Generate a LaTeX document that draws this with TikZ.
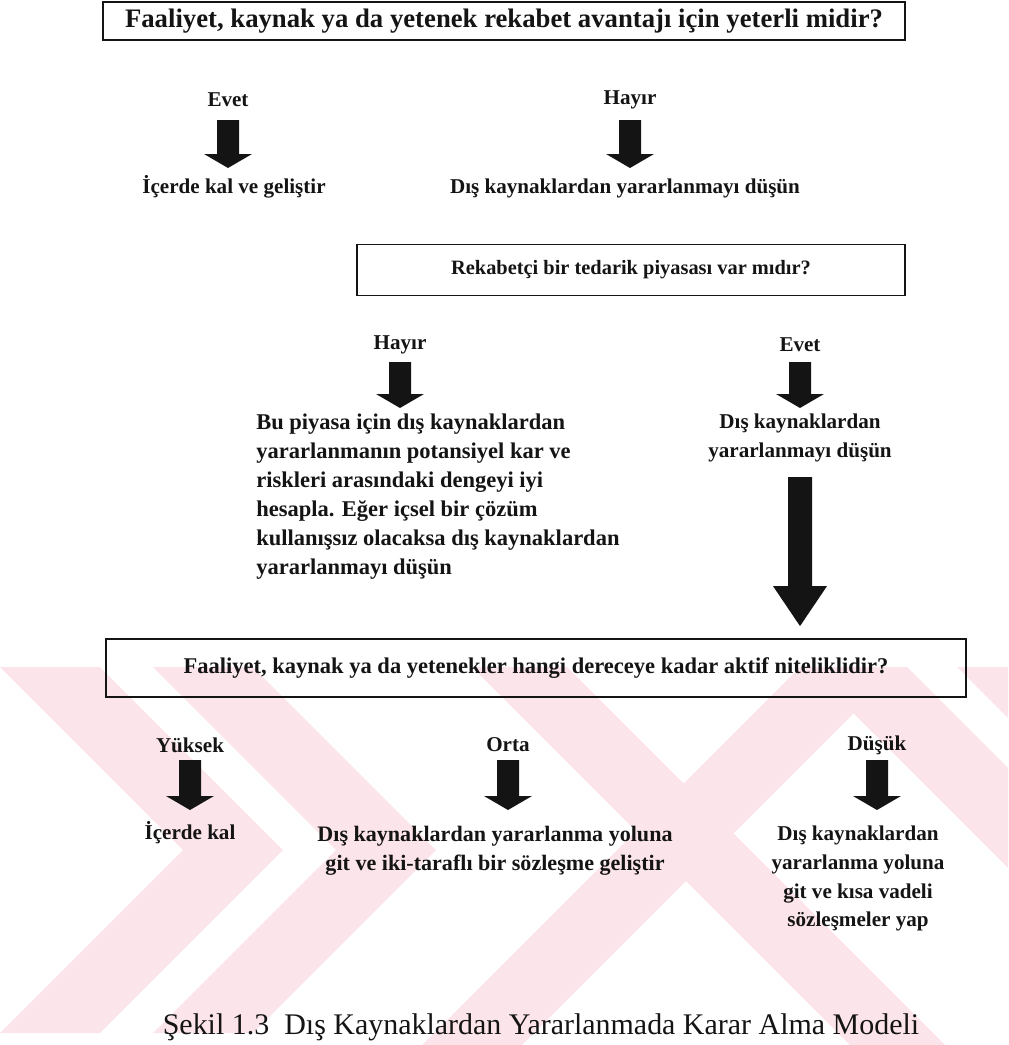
\documentclass[tikz,border=0pt]{standalone}
\usepackage{fontspec}
\setmainfont{Liberation Serif}
\usetikzlibrary{calc}
\definecolor{wmpink}{RGB}{252,229,234}
\definecolor{ink}{RGB}{20,20,20}

% filled block arrow: #1 start, #2 tip, #3 half shaft width, #4 half head width, #5 head length
\newcommand{\blockarr}[5]{%
  \fill[ink] ($(#1)+(-#3,0)$) -- ($(#1)+(#3,0)$) -- ($(#2)+(#3,-#5)$) -- ($(#2)+(#4,-#5)$)
    -- (#2) -- ($(#2)+(-#4,-#5)$) -- ($(#2)+(-#3,-#5)$) -- cycle;}

\begin{document}
\begin{tikzpicture}[x=0.025cm,y=-0.025cm,
  lbl/.style={inner sep=0pt, text=ink, font=\fontsize{15}{20.4}\selectfont\bfseries},
  biglbl/.style={lbl, font=\fontsize{16}{20.6}\selectfont\bfseries},
  qbox/.style={draw=ink, line width=1.3pt, inner sep=0pt, text=ink,
    font=\fontsize{16}{20}\selectfont\bfseries}]
\useasboundingbox (0,0) rectangle (1008,1045);

% background mark in pale pink
\begin{scope}
  \fill[wmpink] (0,667) -- (100,667) -- (283,850) -- (100,1033) -- (0,1033) -- (183,850) -- cycle;
  \fill[wmpink] (153,667) -- (253,667) -- (436,850) -- (253,1033) -- (153,1033) -- (336,850) -- cycle;
  \fill[wmpink] (472,667) -- (567,667) -- (945,1045) -- (850,1045) -- cycle;
  \fill[wmpink] (800,667) -- (900,667) -- (522,1045) -- (422,1045) -- cycle;
  \fill[wmpink] (807,667) -- (907,667) -- (1008,768) -- (1008,868) -- cycle;
  \fill[wmpink] (957,667) -- (1008,667) -- (1008,718) -- cycle;
\end{scope}

% questions
\node[qbox, minimum width=20.05cm, minimum height=0.95cm,
  font=\fontsize{19}{22}\selectfont\bfseries] (q1) at (504,21)
  {Faaliyet, kaynak ya da yetenek rekabet avantajı için yeterli midir?};
\node[qbox, minimum width=13.7cm, minimum height=1.275cm,
  font=\fontsize{14.5}{18}\selectfont\bfseries] (q2) at (631,270)
  {Rekabetçi bir tedarik piyasası var mıdır?};
\node[qbox, minimum width=21.5cm, minimum height=1.45cm] (q3) at (536,668)
  {Faaliyet, kaynak ya da yetenekler hangi dereceye kadar aktif niteliklidir?};

% first level
\node[lbl] (evet1) at (228,100) {Evet};
\node[lbl] (icerde1) at (234,187) {İçerde kal ve geliştir};
\node[lbl] (hayir1) at (630,100) {Hayır};
\node[lbl] (dis1) at (625,188) {Dış kaynaklardan yararlanmayı düşün};

% second level
\node[lbl] (hayir2) at (400,345) {Hayır};
\node[biglbl, anchor=north west, align=left] (hesap) at (256,414)
  {Bu piyasa için dış kaynaklardan\\
   yararlanmanın potansiyel kar ve\\
   riskleri arasındaki dengeyi iyi\\
   hesapla. Eğer içsel bir çözüm\\
   kullanışsız olacaksa dış kaynaklardan\\
   yararlanmayı düşün};
\node[lbl] (evet2) at (800,345) {Evet};
\node[lbl, anchor=north, align=center] (dis2) at (800,414)
  {Dış kaynaklardan\\yararlanmayı düşün};

% third level
\node[lbl] (yuksek) at (190,745) {Yüksek};
\node[lbl] (icerde2) at (190,833) {İçerde kal};
\node[lbl] (orta) at (508,745) {Orta};
\node[lbl, anchor=north, align=center, font=\fontsize{15.7}{20.4}\selectfont\bfseries] (dis3) at (495,826)
  {Dış kaynaklardan yararlanma yoluna\\git ve iki-taraflı bir sözleşme geliştir};
\node[lbl] (dusuk) at (877,745) {Düşük};
\node[lbl, anchor=north, align=center] (dis4) at (858,826)
  {Dış kaynaklardan\\yararlanma yoluna\\git ve kısa vadeli\\sözleşmeler yap};

% caption
\node[inner sep=0pt, text=ink, font=\fontsize{21.3}{24}\selectfont] (cap) at (541,1027)
  {Şekil 1.3\enspace Dış Kaynaklardan Yararlanmada Karar Alma Modeli};

% arrow end points
\coordinate (a1s) at ($(evet1)+(0,20)$);   \coordinate (a1e) at ($(evet1)+(0,68)$);
\coordinate (a2s) at ($(hayir1)+(0,20)$);  \coordinate (a2e) at ($(hayir1)+(0,68)$);
\coordinate (a3s) at ($(hayir2)+(0,17)$);  \coordinate (a3e) at ($(hayir2)+(0,63)$);
\coordinate (a4s) at ($(evet2)+(0,17)$);   \coordinate (a4e) at ($(evet2)+(0,63)$);
\coordinate (a5s) at ($(evet2)+(0,132)$);  \coordinate (a5e) at ($(q3.north -| evet2)+(0,-12)$);
\coordinate (a6s) at ($(yuksek)+(0,15)$);  \coordinate (a6e) at ($(yuksek)+(0,65)$);
\coordinate (a7s) at ($(orta)+(0,15)$);    \coordinate (a7e) at ($(orta)+(0,65)$);
\coordinate (a8s) at ($(dusuk)+(0,15)$);   \coordinate (a8e) at ($(dusuk)+(0,65)$);

% block arrows
\blockarr{a1s}{a1e}{11}{24}{14}
\blockarr{a2s}{a2e}{11}{24}{14}
\blockarr{a3s}{a3e}{11}{24}{14}
\blockarr{a4s}{a4e}{11}{24}{14}
\blockarr{a5s}{a5e}{12}{27}{40}
\blockarr{a6s}{a6e}{11}{24}{14}
\blockarr{a7s}{a7e}{11}{24}{14}
\blockarr{a8s}{a8e}{11}{24}{14}
\end{tikzpicture}
\end{document}
